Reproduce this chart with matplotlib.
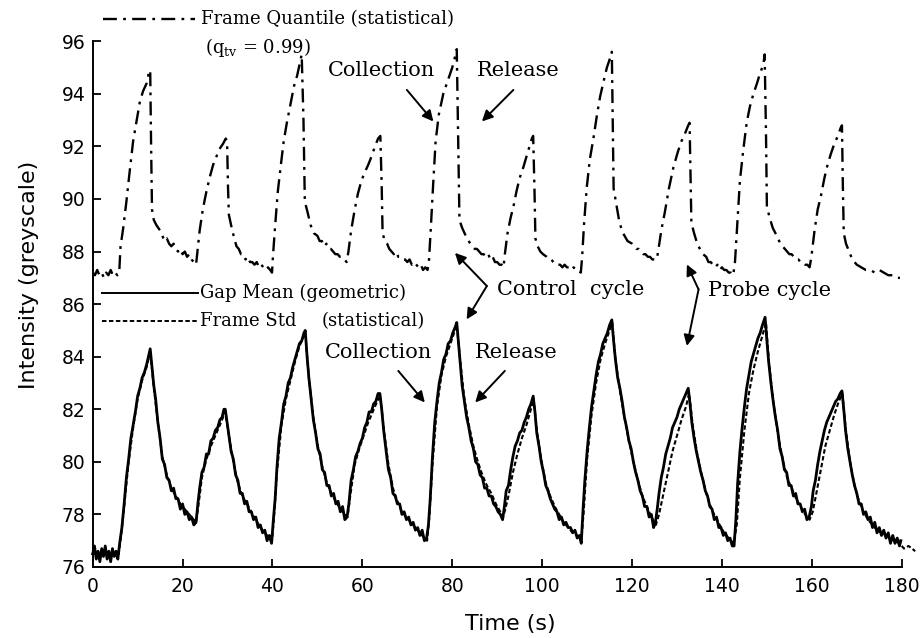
import matplotlib
matplotlib.use("Agg")
import matplotlib.pyplot as plt

plt.rcParams['lines.scale_dashes'] = False
plt.rcParams['mathtext.fontset'] = 'dejavuserif'

# ---------------- data ----------------
quantile_t = [
    0, 0.5, 1, 1.5, 2, 2.5, 3, 3.5, 4, 4.5, 5, 5.5, 5.9,
    6.2, 6.8, 7.5, 8.2, 9.0, 9.8, 10.5, 11.2, 12.0, 12.5, 12.8,
    13.0, 13.2, 13.6, 14.2, 15.0, 15.5, 16.0, 16.5, 17.0, 17.5, 18.0, 18.5, 19.0, 19.5, 20.0, 20.5, 21.0, 21.5, 22.0, 22.5, 23.0,
    23.3, 23.8, 24.5, 25.2, 26.0, 26.8, 27.5, 28.2, 29.0, 29.6, 29.9,
    30.1, 30.3, 30.8, 31.5, 32.0, 32.5, 33.0, 33.5, 34.0, 34.5, 35.0, 35.5, 36.0, 36.5, 37.0, 37.5, 38.0, 38.5, 39.0, 39.5, 39.9,
    40.1, 40.6, 41.2, 41.8, 42.5, 43.2, 44.0, 44.8, 45.5, 46.0, 46.5,
    46.9, 47.2, 47.8, 48.5, 49.2, 50.0, 50.5, 51.0, 51.5, 52.0, 52.5, 53.0, 53.5, 54.0, 54.5, 55.0, 55.5, 56.0, 56.5,
    56.9, 57.5, 58.3, 59.0, 59.8, 60.5, 61.3, 62.0, 62.8, 63.5, 64.0,
    64.3, 64.5, 65.0, 65.5, 66.0, 66.5, 67.0, 67.5, 68.0, 68.5, 69.0, 69.5, 70.0, 70.5, 71.0, 71.5, 72.0, 72.5, 73.0, 73.5, 74.0, 74.5,
    74.8, 75.2, 75.7, 76.3, 77.0, 78.0, 79.0, 80.0, 80.6, 81.0,
    81.3, 81.6, 82.2, 83.0, 84.0, 85.0, 85.5, 86.0, 86.5, 87.0, 87.5, 88.0, 88.5, 89.0, 89.5, 90.0, 90.5, 91.0, 91.4,
    91.7, 92.3, 93.0, 93.6, 94.3, 95.0, 95.8, 96.5, 97.2, 97.7, 98.0,
    98.3, 98.5, 99.0, 99.6, 100.2, 101.0, 101.5, 102.0, 102.5, 103.0, 103.5, 104.0, 104.5, 105.0, 105.5, 106.0, 106.5, 107.0, 107.5, 108.0, 108.6,
    108.9, 109.3, 109.9, 110.6, 111.4, 112.2, 112.9, 113.7, 114.4, 115.0, 115.5,
    115.7, 115.9, 116.5, 117.2, 118.0, 119.0, 120.0, 120.5, 121.0, 121.5, 122.0, 122.5, 123.0, 123.5, 124.0, 124.5, 125.0, 125.5,
    125.8, 126.5, 127.3, 128.2, 129.2, 130.2, 131.0, 131.8, 132.5, 132.8,
    133.0, 133.2, 133.8, 134.5, 135.1, 135.8, 136.5, 137.0, 137.5, 138.0, 138.5, 139.0, 139.5, 140.0, 140.5, 141.0, 141.5, 142.0, 142.5,
    142.9, 143.4, 144.0, 144.7, 145.5, 146.2, 147.0, 147.8, 148.5, 149.2, 149.5,
    149.8, 150.0, 150.6, 151.3, 152.2, 153.0, 154.0, 155.0, 155.5, 156.0, 156.5, 157.0, 157.5, 158.0, 158.5, 159.0, 159.5,
    159.9, 160.6, 161.3, 162.0, 162.8, 163.5, 164.2, 165.0, 165.8, 166.4, 166.7,
    166.9, 167.1, 167.6, 168.3, 169.0, 170.0, 171.0, 172.0, 173.0, 174.0, 175.0, 176.0, 177.0, 178.0, 179.0, 179.6,
]
quantile_v = [
    87.2, 87.1, 87.3, 87.1, 87.2, 87.0, 87.2, 87.1, 87.3, 87.1, 87.2, 87.1, 87.2,
    88.2, 88.9, 89.9, 91.0, 92.2, 93.0, 93.7, 94.1, 94.4, 94.8, 94.9,
    92.0, 89.6, 89.2, 89.0, 88.8, 88.6, 88.4, 88.5, 88.3, 88.2, 88.3, 88.1, 88.0, 88.1, 87.9, 88.0, 87.8, 87.9, 87.7, 87.6, 87.5,
    88.0, 88.8, 89.6, 90.2, 90.8, 91.3, 91.6, 91.9, 92.1, 92.3, 92.2,
    90.5, 89.4, 89.0, 88.5, 88.2, 88.1, 87.9, 87.9, 87.7, 87.8, 87.6, 87.6, 87.5, 87.6, 87.4, 87.5, 87.4, 87.3, 87.4, 87.3, 87.2,
    87.8, 89.0, 90.3, 91.2, 92.2, 92.9, 93.6, 94.3, 94.7, 95.1, 95.5,
    93.0, 89.9, 89.5, 89.0, 88.7, 88.6, 88.4, 88.4, 88.2, 88.3, 88.1, 88.1, 88.0, 87.9, 87.9, 87.8, 87.8, 87.7, 87.6,
    88.0, 88.8, 89.6, 90.2, 90.7, 91.0, 91.3, 91.6, 92.0, 92.3, 92.4,
    90.5, 88.7, 88.4, 88.3, 88.1, 88.0, 87.9, 88.0, 87.8, 87.8, 87.7, 87.7, 87.6, 87.7, 87.5, 87.6, 87.5, 87.4, 87.5, 87.3, 87.4, 87.3,
    87.6, 88.8, 90.4, 92.2, 93.2, 94.0, 94.5, 95.0, 95.4, 95.7,
    92.5, 89.2, 88.9, 88.6, 88.3, 88.1, 88.1, 88.0, 87.9, 87.9, 87.8, 87.9, 87.7, 87.8, 87.6, 87.6, 87.5, 87.5, 87.4,
    87.9, 88.7, 89.3, 89.7, 90.3, 90.8, 91.2, 91.6, 92.0, 92.3, 92.4,
    90.3, 88.5, 88.2, 88.0, 87.9, 87.8, 87.7, 87.7, 87.6, 87.6, 87.5, 87.5, 87.4, 87.5, 87.4, 87.4, 87.3, 87.4, 87.3, 87.3, 87.2,
    87.8, 89.0, 90.4, 91.5, 92.3, 93.2, 93.9, 94.5, 95.0, 95.3, 95.6,
    93.0, 90.4, 89.8, 89.1, 88.7, 88.4, 88.3, 88.2, 88.1, 88.1, 88.0, 87.9, 87.9, 87.8, 87.8, 87.7, 87.7, 87.7,
    88.0, 88.8, 89.5, 90.4, 91.2, 91.8, 92.2, 92.5, 92.8, 92.9,
    91.0, 89.1, 88.7, 88.3, 88.1, 87.9, 87.8, 87.6, 87.6, 87.5, 87.4, 87.5, 87.3, 87.4, 87.3, 87.3, 87.2, 87.2, 87.1,
    87.6, 89.0, 90.7, 91.8, 92.9, 93.5, 94.0, 94.4, 94.8, 95.1, 95.5,
    92.5, 89.7, 89.3, 88.9, 88.6, 88.3, 88.1, 87.9, 87.9, 87.8, 87.7, 87.7, 87.6, 87.6, 87.5, 87.5, 87.4,
    87.8, 88.8, 89.6, 90.1, 90.8, 91.3, 91.7, 92.1, 92.4, 92.7, 92.8,
    90.5, 88.7, 88.3, 88.0, 87.7, 87.5, 87.4, 87.3, 87.3, 87.2, 87.3, 87.2, 87.1, 87.1, 87.0, 87.0,
]

gapmean_t = [
    0, 0.4, 0.8, 1.2, 1.6, 2.0, 2.4, 2.8, 3.2, 3.6, 4.0, 4.4, 4.8, 5.2, 5.6,
    6.0, 6.5, 7.0, 7.5, 8.0, 8.5, 9.0, 9.5, 10.0, 10.5, 11.0, 11.5, 12.0, 12.4, 12.8,
    13.2, 13.6, 14.0, 14.5, 15.0, 15.5, 16.0, 16.5, 17.0, 17.5, 18.0, 18.5, 19.0, 19.5, 20.0, 20.5, 21.0, 21.5, 22.0, 22.5, 23.0,
    23.4, 23.8, 24.3, 24.8, 25.3, 25.8, 26.3, 26.8, 27.3, 27.8, 28.3, 28.8, 29.2, 29.5,
    29.9, 30.3, 30.8, 31.3, 31.8, 32.3, 32.8, 33.3, 33.8, 34.3, 34.8, 35.3, 35.8, 36.3, 36.8, 37.3, 37.8, 38.3, 38.8, 39.3, 39.8,
    40.2, 40.6, 41.0, 41.5, 42.0, 42.5, 43.0, 43.5, 44.0, 44.5, 45.0, 45.5, 46.0, 46.5, 47.0, 47.3,
    47.7, 48.1, 48.6, 49.1, 49.6, 50.1, 50.6, 51.1, 51.6, 52.1, 52.6, 53.1, 53.6, 54.1, 54.6, 55.1, 55.6, 56.1, 56.6,
    57.0, 57.5, 58.0, 58.5, 59.0, 59.5, 60.0, 60.5, 61.0, 61.5, 62.0, 62.5, 63.0, 63.5, 63.9,
    64.3, 64.8, 65.3, 65.8, 66.3, 66.8, 67.3, 67.8, 68.3, 68.8, 69.3, 69.8, 70.3, 70.8, 71.3, 71.8, 72.3, 72.8, 73.3, 73.8, 74.3,
    74.7, 75.1, 75.6, 76.1, 76.6, 77.1, 77.6, 78.1, 78.6, 79.1, 79.6, 80.1, 80.6, 81.0,
    81.4, 81.8, 82.2, 82.7, 83.2, 83.7, 84.2, 84.7, 85.2, 85.7, 86.2, 86.7, 87.2, 87.7, 88.2, 88.7, 89.2, 89.7, 90.2, 90.7, 91.2,
    91.6, 92.0, 92.5, 93.0, 93.5, 94.0, 94.5, 95.0, 95.5, 96.0, 96.5, 97.0, 97.5, 98.0,
    98.4, 98.8, 99.3, 99.8, 100.3, 100.8, 101.3, 101.8, 102.3, 102.8, 103.3, 103.8, 104.3, 104.8, 105.3, 105.8, 106.3, 106.8, 107.3, 107.8, 108.3, 108.7,
    109.1, 109.5, 110.0, 110.5, 111.0, 111.5, 112.0, 112.5, 113.0, 113.5, 114.0, 114.5, 115.0, 115.5,
    115.9, 116.3, 116.8, 117.3, 117.8, 118.3, 118.8, 119.3, 119.8, 120.3, 120.8, 121.3, 121.8, 122.3, 122.8, 123.3, 123.8, 124.3, 124.8, 125.2,
    125.6, 126.0, 126.5, 127.0, 127.5, 128.0, 128.5, 129.0, 129.5, 130.0, 130.5, 131.0, 131.5, 132.0, 132.5,
    132.9, 133.3, 133.8, 134.3, 134.8, 135.3, 135.8, 136.3, 136.8, 137.3, 137.8, 138.3, 138.8, 139.3, 139.8, 140.3, 140.8, 141.3, 141.8, 142.3, 142.7,
    143.1, 143.5, 144.0, 144.5, 145.0, 145.5, 146.0, 146.5, 147.0, 147.5, 148.0, 148.5, 149.0, 149.6,
    150.0, 150.4, 150.9, 151.4, 151.9, 152.4, 152.9, 153.4, 153.9, 154.4, 154.9, 155.4, 155.9, 156.4, 156.9, 157.4, 157.9, 158.4, 158.9, 159.4,
    159.9, 160.3, 160.8, 161.3, 161.8, 162.3, 162.8, 163.3, 163.8, 164.3, 164.8, 165.3, 165.8, 166.3, 166.7,
    167.1, 167.5, 168.0, 168.5, 169.0, 169.5, 170.0, 170.5, 171.0, 171.5, 172.0, 172.5, 173.0, 173.5, 174.0, 174.5, 175.0, 175.5, 176.0, 176.5, 177.0, 177.5, 178.0, 178.5, 179.0, 179.5, 179.8,
]
gapmean_v = [
    76.5, 76.8, 76.3, 76.6, 76.2, 76.7, 76.4, 76.8, 76.3, 76.6, 76.2, 76.7, 76.4, 76.6, 76.3,
    76.9, 77.5, 78.4, 79.4, 80.1, 80.9, 81.4, 81.9, 82.5, 82.8, 83.2, 83.4, 83.7, 84.0, 84.3,
    83.6, 82.9, 82.4, 81.5, 80.9, 80.1, 79.9, 79.4, 79.3, 78.9, 79.0, 78.6, 78.6, 78.2, 78.4, 78.0, 78.1, 77.8, 77.9, 77.6, 77.7,
    78.4, 79.0, 79.6, 79.8, 80.3, 80.3, 80.8, 80.9, 81.2, 81.3, 81.6, 81.7, 82.0, 82.0,
    81.5, 81.0, 80.4, 80.1, 79.5, 79.3, 78.8, 78.8, 78.4, 78.5, 78.1, 78.1, 77.8, 77.9, 77.5, 77.6, 77.3, 77.4, 77.0, 77.2, 76.9,
    77.8, 78.6, 79.8, 80.9, 81.5, 82.2, 82.5, 83.0, 83.2, 83.6, 83.9, 84.2, 84.5, 84.6, 84.9, 85.0,
    84.0, 83.2, 82.4, 81.6, 81.1, 80.5, 80.3, 79.7, 79.6, 79.1, 79.1, 78.7, 78.8, 78.4, 78.5, 78.1, 78.3, 77.8, 77.9,
    78.4, 79.3, 79.7, 80.2, 80.4, 80.7, 80.9, 81.3, 81.5, 81.9, 81.9, 82.2, 82.3, 82.6, 82.6,
    82.0, 81.1, 80.4, 79.7, 79.4, 78.8, 78.7, 78.4, 78.4, 78.0, 78.1, 77.8, 77.9, 77.6, 77.7, 77.4, 77.5, 77.2, 77.4, 77.0, 77.1,
    77.6, 78.6, 80.2, 81.5, 82.3, 83.0, 83.4, 83.9, 84.1, 84.5, 84.6, 84.9, 85.1, 85.3,
    84.5, 83.7, 82.9, 82.3, 81.7, 81.3, 80.8, 80.5, 80.0, 79.9, 79.5, 79.4, 79.0, 79.0, 78.7, 78.7, 78.4, 78.3, 78.1, 78.0, 77.8,
    78.3, 78.9, 79.1, 79.7, 80.2, 80.6, 80.8, 81.1, 81.2, 81.5, 81.7, 82.0, 82.2, 82.5,
    81.9, 81.1, 80.6, 80.0, 79.6, 79.1, 78.9, 78.6, 78.4, 78.2, 78.1, 77.8, 77.9, 77.6, 77.7, 77.5, 77.5, 77.3, 77.4, 77.1, 77.2, 76.9,
    78.2, 79.3, 80.4, 81.3, 82.1, 82.7, 83.3, 83.8, 84.1, 84.5, 84.7, 84.9, 85.2, 85.4,
    84.6, 83.9, 83.2, 82.8, 82.3, 81.7, 81.3, 80.8, 80.5, 80.0, 79.6, 79.3, 78.9, 78.7, 78.3, 78.3, 77.9, 78.0, 77.5, 77.7,
    78.2, 78.8, 79.4, 79.8, 80.3, 80.6, 80.9, 81.3, 81.5, 81.7, 82.0, 82.2, 82.4, 82.6, 82.8,
    82.2, 81.5, 80.9, 80.4, 80.0, 79.6, 79.3, 78.9, 78.7, 78.3, 78.2, 77.8, 77.9, 77.5, 77.5, 77.2, 77.3, 77.0, 77.1, 76.8, 76.8,
    77.8, 79.2, 80.4, 81.3, 82.1, 82.8, 83.3, 83.8, 84.1, 84.4, 84.7, 84.9, 85.2, 85.5,
    84.6, 83.8, 83.0, 82.3, 81.7, 81.2, 80.5, 80.2, 79.7, 79.6, 79.1, 79.1, 78.7, 78.8, 78.4, 78.4, 78.1, 78.2, 77.8, 77.9,
    78.3, 78.9, 79.3, 79.9, 80.4, 80.8, 81.2, 81.5, 81.7, 81.9, 82.1, 82.3, 82.4, 82.6, 82.7,
    82.0, 81.2, 80.5, 80.0, 79.5, 79.1, 78.8, 78.4, 78.4, 78.0, 78.1, 77.8, 77.9, 77.5, 77.7, 77.3, 77.5, 77.2, 77.4, 77.1, 77.3, 76.9, 77.2, 76.9, 77.1, 76.8, 77.0,
]

framestd_t = [
    0, 2, 4, 5.7,
    6.2, 7.0, 8.0, 9.0, 10.0, 11.0, 12.0, 12.8,
    13.5, 14.5, 15.5, 16.5, 17.5, 18.5, 19.5, 20.5, 21.5, 22.5, 23.0,
    23.5, 24.3, 25.3, 26.3, 27.3, 28.3, 29.5,
    30.3, 31.3, 32.3, 33.3, 34.3, 35.3, 36.3, 37.3, 38.3, 39.3, 39.9,
    40.3, 41.0, 42.0, 43.0, 44.0, 45.0, 46.0, 47.3,
    48.1, 49.1, 50.1, 51.1, 52.1, 53.1, 54.1, 55.1, 56.1, 56.7,
    57.3, 58.3, 59.3, 60.3, 61.3, 62.3, 63.3, 64.0,
    64.8, 65.8, 66.8, 67.8, 68.8, 69.8, 70.8, 71.8, 72.8, 73.8, 74.4,
    74.9, 75.6, 76.6, 77.6, 78.6, 79.6, 80.6, 81.0,
    81.8, 82.7, 83.7, 84.7, 85.7, 86.7, 87.7, 88.7, 89.7, 90.7, 91.3,
    91.8, 92.5, 93.5, 94.5, 95.5, 96.5, 97.5, 98.1,
    98.8, 99.8, 100.8, 101.8, 102.8, 103.8, 104.8, 105.8, 106.8, 107.8, 108.7,
    109.2, 110.0, 111.0, 112.0, 113.0, 114.0, 115.0, 115.6,
    116.3, 117.3, 118.3, 119.3, 120.3, 121.3, 122.3, 123.3, 124.3, 125.3,
    126.0, 127.0, 128.0, 129.0, 130.0, 131.0, 132.0, 132.7,
    133.5, 134.5, 135.5, 136.5, 137.5, 138.5, 139.5, 140.5, 141.5, 142.6,
    143.3, 144.0, 145.0, 146.0, 147.0, 148.0, 149.0, 149.8,
    150.5, 151.5, 152.5, 153.5, 154.5, 155.5, 156.5, 157.5, 158.5, 159.5,
    160.2, 161.0, 162.0, 163.0, 164.0, 165.0, 166.0, 166.8,
    167.5, 168.5, 169.5, 170.5, 171.5, 172.5, 173.5, 174.5, 175.5, 176.5, 177.5, 178.5, 179.5, 180.5, 181.5, 182.3, 183.0,
]
framestd_v = [
    76.5, 76.5, 76.5, 76.4,
    77.0, 78.3, 80.0, 81.3, 82.4, 83.1, 83.6, 84.2,
    83.0, 81.5, 80.2, 79.5, 79.0, 78.7, 78.4, 78.2, 78.0, 77.8, 77.7,
    78.3, 79.4, 80.1, 80.6, 81.0, 81.4, 81.9,
    81.0, 80.0, 79.2, 78.7, 78.4, 78.1, 77.8, 77.5, 77.3, 77.1, 77.0,
    77.8, 79.6, 81.4, 82.4, 83.1, 83.8, 84.4, 84.9,
    83.2, 81.7, 80.6, 79.8, 79.2, 78.8, 78.5, 78.2, 78.0, 77.9,
    78.7, 79.9, 80.5, 81.0, 81.5, 81.9, 82.3, 82.5,
    81.2, 79.9, 79.0, 78.5, 78.1, 77.9, 77.7, 77.5, 77.3, 77.1, 77.0,
    77.9, 79.9, 82.1, 83.3, 84.0, 84.5, 85.0, 85.2,
    83.8, 82.4, 81.4, 80.6, 80.0, 79.5, 79.1, 78.8, 78.4, 78.1, 77.9,
    78.2, 78.7, 79.6, 80.3, 80.9, 81.4, 82.0, 82.4,
    81.2, 80.1, 79.2, 78.7, 78.3, 78.0, 77.7, 77.5, 77.3, 77.2, 77.0,
    78.0, 80.1, 81.8, 83.0, 83.9, 84.5, 85.0, 85.3,
    83.9, 82.7, 81.7, 80.8, 80.0, 79.3, 78.7, 78.3, 77.9, 77.6,
    78.0, 78.8, 79.6, 80.4, 81.0, 81.6, 82.1, 82.6,
    81.4, 80.3, 79.5, 78.8, 78.3, 77.9, 77.6, 77.3, 77.1, 76.9,
    77.6, 79.4, 81.2, 82.6, 83.5, 84.2, 84.8, 85.3,
    83.7, 82.2, 81.0, 80.1, 79.4, 79.0, 78.6, 78.3, 78.0, 77.8,
    78.1, 78.8, 79.7, 80.6, 81.2, 81.8, 82.3, 82.6,
    81.3, 80.0, 79.1, 78.5, 78.1, 77.8, 77.6, 77.4, 77.3, 77.2, 77.1, 77.0, 76.9, 76.7, 76.8, 76.7, 76.6,
]

x_ticks = [0, 20, 40, 60, 80, 100, 120, 140, 160, 180]
y_ticks = [76, 78, 80, 82, 84, 86, 88, 90, 92, 94, 96]

assert len(quantile_t) == len(quantile_v), (len(quantile_t), len(quantile_v))
assert len(gapmean_t) == len(gapmean_v), (len(gapmean_t), len(gapmean_v))
assert len(framestd_t) == len(framestd_v), (len(framestd_t), len(framestd_v))

# ---------------- figure ----------------
fig = plt.figure(figsize=(9.24, 6.38), dpi=100)
ax = fig.add_axes([0.1003, 0.1113, 0.8756, 0.8240])

dashdot = (0, (10, 4.5, 2, 4.5))
fine_dash = (0, (3.2, 1.8))

ax.plot(quantile_t, quantile_v, color='black', lw=1.7, linestyle=dashdot, clip_on=False)
ax.plot(framestd_t, framestd_v, color='black', lw=1.5, linestyle=fine_dash, clip_on=False)
ax.plot(gapmean_t, gapmean_v, color='black', lw=2.0, clip_on=False)

ax.set_xlim(0, 180)
ax.set_ylim(76, 96)
ax.set_xticks(x_ticks)
ax.set_yticks(y_ticks)
for s in ('top', 'right'):
    ax.spines[s].set_visible(False)
for s in ('left', 'bottom'):
    ax.spines[s].set_linewidth(1.4)
ax.tick_params(direction='in', length=5.5, width=1.3, labelsize=13.5)
ax.tick_params(axis='x', pad=7)
ax.tick_params(axis='y', pad=5)

ax.set_xlabel('Time (s)', fontsize=16)
ax.xaxis.set_label_coords(0.516, -0.09)
ax.set_ylabel('Intensity (greyscale)', fontsize=16)
ax.yaxis.set_label_coords(-0.066, 0.555)

serif = 'DejaVu Serif'
leg_fs = 13
ann_fs = 15

# legend-like entries
ax.plot([2.3, 22.8], [96.85, 96.85], color='black', lw=1.7, linestyle=dashdot, clip_on=False)
ax.text(24.1, 96.85, 'Frame Quantile (statistical)', family=serif, fontsize=leg_fs, va='center', ha='left')
ax.text(25.0, 95.75, r'(q$_{\mathregular{tv}}$ = 0.99)', family=serif, fontsize=leg_fs, va='center', ha='left')

ax.plot([2.1, 23.4], [86.43, 86.43], color='black', lw=1.4, clip_on=False)
ax.text(23.9, 86.43, 'Gap Mean (geometric)', family=serif, fontsize=leg_fs, va='center', ha='left')
ax.plot([2.1, 23.4], [85.35, 85.35], color='black', lw=1.4, linestyle=fine_dash, clip_on=False)
ax.text(23.9, 85.35, 'Frame Std', family=serif, fontsize=leg_fs, va='center', ha='left')
ax.text(51.0, 85.35, '(statistical)', family=serif, fontsize=leg_fs, va='center', ha='left')

arrow = dict(arrowstyle='-|>', color='black', lw=1.4, mutation_scale=16, shrinkA=0, shrinkB=0)

# upper annotations
ax.text(52.4, 94.89, 'Collection', family=serif, fontsize=ann_fs, va='center', ha='left')
ax.text(85.4, 94.89, 'Release', family=serif, fontsize=ann_fs, va='center', ha='left')
ax.annotate('', xy=(75.8, 92.95), xytext=(69.9, 94.15), arrowprops=arrow)
ax.annotate('', xy=(86.6, 92.95), xytext=(93.6, 94.15), arrowprops=arrow)

# lower annotations
ax.text(51.6, 84.16, 'Collection', family=serif, fontsize=ann_fs, va='center', ha='left')
ax.text(85.1, 84.16, 'Release', family=serif, fontsize=ann_fs, va='center', ha='left')
ax.annotate('', xy=(73.9, 82.26), xytext=(68.0, 83.46), arrowprops=arrow)
ax.annotate('', xy=(85.1, 82.26), xytext=(91.7, 83.46), arrowprops=arrow)

# cycle annotations
ax.text(89.9, 86.56, 'Control  cycle', family=serif, fontsize=ann_fs, va='center', ha='left')
ax.annotate('', xy=(80.6, 87.95), xytext=(87.7, 86.69), arrowprops=arrow)
ax.annotate('', xy=(83.2, 85.42), xytext=(87.7, 86.69), arrowprops=arrow)

ax.text(137.0, 86.5, 'Probe cycle', family=serif, fontsize=ann_fs, va='center', ha='left')
ax.annotate('', xy=(132.2, 87.51), xytext=(134.8, 86.56), arrowprops=arrow)
ax.annotate('', xy=(132.2, 84.41), xytext=(134.8, 86.56), arrowprops=arrow)

fig.savefig('out.png', dpi=100)
